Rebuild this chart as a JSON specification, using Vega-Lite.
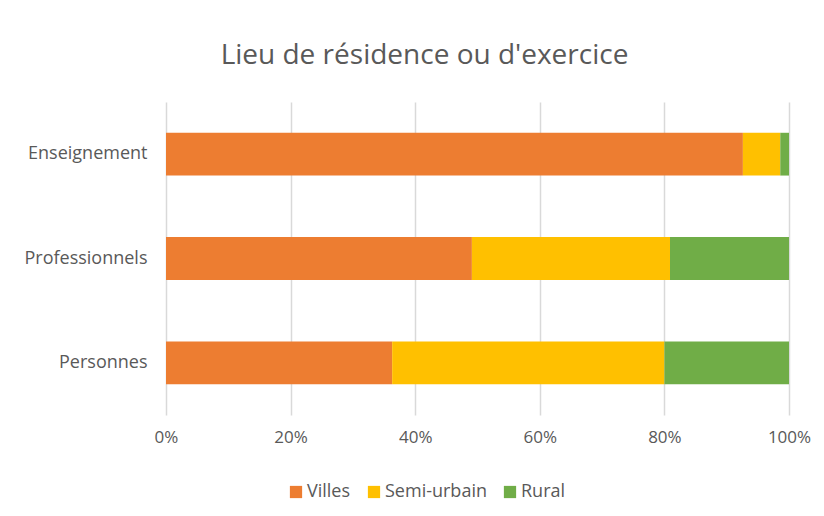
{
  "$schema": "https://vega.github.io/schema/vega-lite/v6.json",
  "autosize": "none",
  "width": 623,
  "height": 313,
  "padding": {"left": 166, "top": 102, "right": 35, "bottom": 101},
  "background": "white",
  "title": {
    "text": "Lieu de résidence ou d'exercice",
    "anchor": "middle",
    "dx": -53,
    "offset": 32,
    "fontSize": 28,
    "font": "Open Sans",
    "fontWeight": "normal",
    "color": "#595959"
  },
  "data": {
    "values": [
      {"groupe": "Enseignement", "lieu": "Villes", "ordre": 1, "part": 0.926},
      {"groupe": "Enseignement", "lieu": "Semi-urbain", "ordre": 2, "part": 0.06},
      {"groupe": "Enseignement", "lieu": "Rural", "ordre": 3, "part": 0.014},
      {"groupe": "Professionnels", "lieu": "Villes", "ordre": 1, "part": 0.491},
      {"groupe": "Professionnels", "lieu": "Semi-urbain", "ordre": 2, "part": 0.318},
      {"groupe": "Professionnels", "lieu": "Rural", "ordre": 3, "part": 0.191},
      {"groupe": "Personnes", "lieu": "Villes", "ordre": 1, "part": 0.363},
      {"groupe": "Personnes", "lieu": "Semi-urbain", "ordre": 2, "part": 0.437},
      {"groupe": "Personnes", "lieu": "Rural", "ordre": 3, "part": 0.2}
    ]
  },
  "mark": {"type": "bar"},
  "encoding": {
    "y": {
      "field": "groupe",
      "type": "nominal",
      "sort": ["Enseignement", "Professionnels", "Personnes"],
      "scale": {"paddingInner": 0.59, "paddingOuter": 0.295},
      "axis": {
        "title": null,
        "ticks": false,
        "domain": false,
        "labelPadding": 19,
        "labelFontSize": 18,
        "labelFont": "Open Sans",
        "labelColor": "#595959"
      }
    },
    "x": {
      "field": "part",
      "type": "quantitative",
      "stack": "normalize",
      "scale": {"domain": [0, 1]},
      "axis": {
        "title": null,
        "format": ".0%",
        "values": [0, 0.2, 0.4, 0.6, 0.8, 1],
        "ticks": false,
        "domain": false,
        "grid": true,
        "gridColor": "#d9d9d9",
        "gridWidth": 1.5,
        "labelPadding": 14,
        "labelFontSize": 17,
        "labelFont": "Open Sans",
        "labelColor": "#595959",
        "labelFlush": false
      }
    },
    "color": {
      "field": "lieu",
      "type": "nominal",
      "sort": ["Villes", "Semi-urbain", "Rural"],
      "scale": {
        "domain": ["Villes", "Semi-urbain", "Rural"],
        "range": ["#ED7D31", "#FFC000", "#70AD47"]
      },
      "legend": {
        "title": null,
        "orient": "none",
        "direction": "horizontal",
        "legendX": 121,
        "legendY": 381,
        "symbolType": "square",
        "symbolSize": 150,
        "symbolStrokeWidth": 0,
        "labelFontSize": 18,
        "labelFont": "Open Sans",
        "labelColor": "#595959",
        "columnPadding": 14,
        "labelOffset": 2
      }
    },
    "order": {"field": "ordre", "type": "quantitative"}
  },
  "config": {
    "view": {"stroke": null}
  }
}
